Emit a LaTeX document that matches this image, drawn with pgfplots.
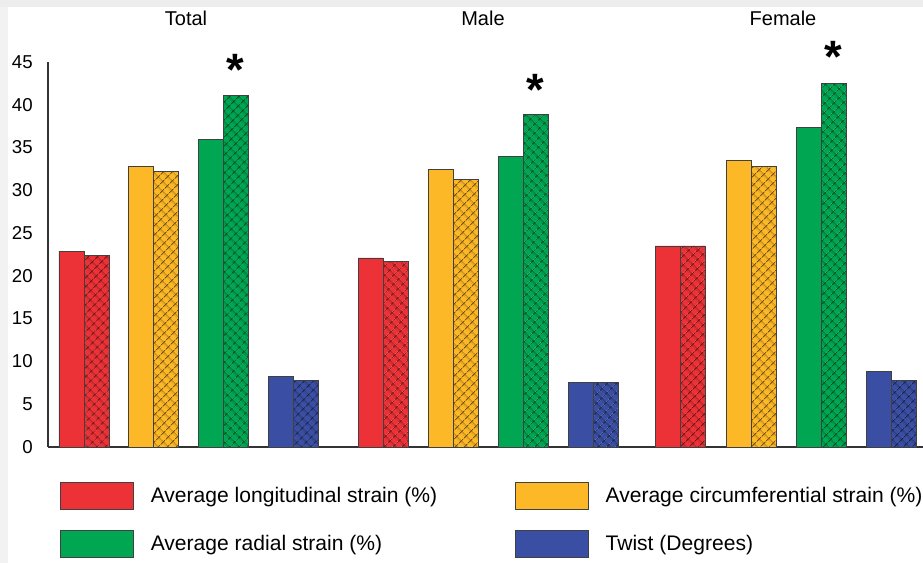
\documentclass[border=0pt]{standalone}
\usepackage{fontspec}
\setmainfont{Liberation Sans}
\usepackage{pgfplots}
\pgfplotsset{compat=1.18}
\usetikzlibrary{patterns.meta}
\definecolor{cred}{RGB}{237,50,55}
\definecolor{corange}{RGB}{253,184,39}
\definecolor{cgreen}{RGB}{0,166,81}
\definecolor{cblue}{RGB}{58,79,163}
\tikzset{
  sbar/.style={ybar, bar width=18.75pt, fill=#1, draw=black!75, line width=0.6pt},
  hbar/.style={ybar, bar width=18.75pt, fill=#1, draw=black!75, line width=0.6pt,
     postaction={pattern={Hatch[angle=45,distance=5.4pt,line width=0.8pt]}, pattern color=#1!45!black}},
}
\begin{document}
\begin{tikzpicture}
\useasboundingbox (-36pt,-87pt) rectangle (656.25pt,335.25pt);
\fill[black!7] (-36pt,330pt) rectangle (656.25pt,335.25pt);
\fill[black!5] (-36pt,-87pt) rectangle (-30pt,330pt);
\begin{axis}[
  scale only axis, width=656.25pt, height=288.75pt,
  xmin=48, xmax=923, ymin=0, ymax=45,
  axis x line=bottom, axis y line=left,
  axis line style={-, draw=black!80, line width=0.8pt},
  xtick=\empty, ytick={0,5,...,45},
  major tick length=0pt,
  /pgf/number format/assume math mode=true,
  yticklabel style={font=\fontsize{14}{16}\selectfont, inner sep=0pt, xshift=-11.25pt},
  clip=false,
  legend columns=2,
  legend image code/.code={\draw[#1] (0pt,-10.1pt) rectangle (54.75pt,10.1pt);},
  legend style={draw=none, fill=none, inner sep=0pt, outer sep=0pt,
    at={(axis description cs:0.0137,-0.0909)}, anchor=north west,
    row sep=15pt, font=\fontsize{15.8}{18}\selectfont,
    nodes={inner sep=0pt},
    /tikz/every odd column/.style={column sep=12.75pt}},
  legend cell align=left,
]
\addplot[sbar=cred] coordinates {(71.5,22.9) (370.5,22.1) (667.5,23.5)};
\addlegendentry{\makebox[273pt][l]{Average longitudinal strain (\%)}}
\addplot[hbar=cred, forget plot] coordinates {(96.5,22.4) (395.5,21.7) (692.5,23.5)};
\addplot[sbar=corange] coordinates {(140.5,32.8) (440.5,32.4) (738.5,33.5)};
\addlegendentry{Average circumferential strain (\%)}
\addplot[hbar=corange, forget plot] coordinates {(165.5,32.2) (465.5,31.3) (763.5,32.8)};
\addplot[sbar=cgreen] coordinates {(210.5,35.9) (510.5,34.0) (808.5,37.3)};
\addlegendentry{\makebox[273pt][l]{Average radial strain (\%)}}
\addplot[hbar=cgreen, forget plot] coordinates {(235.5,41.1) (535.5,38.9) (833.5,42.5)};
\addplot[sbar=cblue] coordinates {(280.5,8.2) (580.5,7.5) (878.5,8.8)};
\addlegendentry{Twist (Degrees)}
\addplot[hbar=cblue, forget plot] coordinates {(305.5,7.8) (605.5,7.5) (903.5,7.8)};
\node[font=\fontsize{15}{17}\selectfont] at (axis cs:186,50.1) {Total};
\node[font=\fontsize{15}{17}\selectfont] at (axis cs:483,50.1) {Male};
\node[font=\fontsize{15}{17}\selectfont] at (axis cs:783,50.1) {Female};
\node[font=\fontsize{34}{34}\selectfont\bfseries] at (axis cs:235.5,44.05) {*};
\node[font=\fontsize{34}{34}\selectfont\bfseries] at (axis cs:535.5,41.7) {*};
\node[font=\fontsize{34}{34}\selectfont\bfseries] at (axis cs:833.5,45.6) {*};
\end{axis}
\end{tikzpicture}
\end{document}
